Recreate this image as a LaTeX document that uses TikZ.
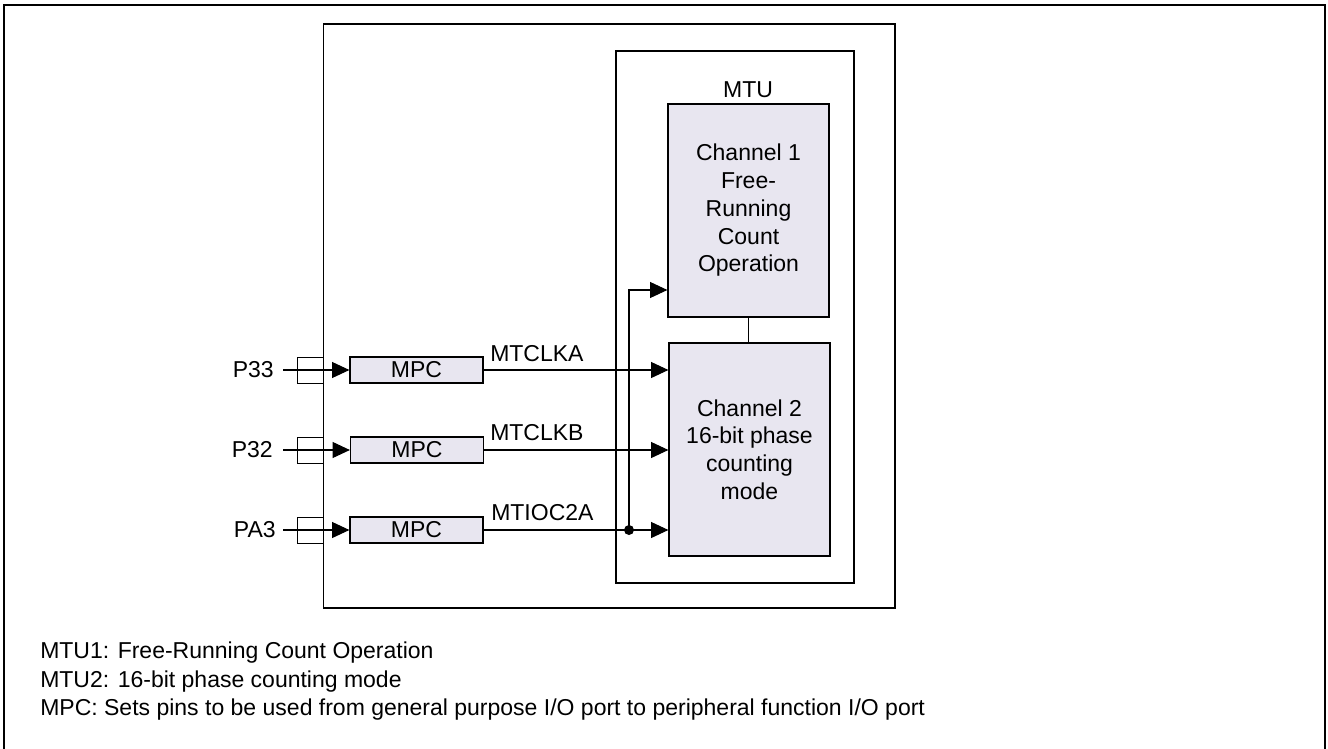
\documentclass[tikz,border=0pt]{standalone}
\usepackage{fontspec}
\setmainfont{Liberation Sans}
\usetikzlibrary{arrows.meta}
\definecolor{boxfill}{RGB}{232,230,240}
\begin{document}
\begin{tikzpicture}[x=0.75pt,y=-0.75pt,
  txt/.style={font=\fontsize{17.25pt}{20.8pt}\selectfont, inner sep=0pt},
  blk/.style={draw, line width=0.9pt, fill=boxfill, align=center, inner sep=0pt,
              font=\fontsize{17.25pt}{20.8pt}\selectfont},
  mpcbox/.style={blk, minimum width=99.75pt, minimum height=19.5pt},
  chbox/.style={blk, minimum width=120.75pt, minimum height=159.75pt},
  pinbox/.style={draw, line width=0.7pt, minimum width=19.5pt, minimum height=19.5pt, inner sep=0pt},
  arr/.style={line width=0.8pt, -{Triangle[length=13pt,width=12pt]}},
  wire/.style={line width=0.8pt}]
\useasboundingbox (0,0) rectangle (1328,749);
% outer frame
\draw[line width=1.6pt] (4,749) -- (4,5) -- (1325,5) -- (1325,749);
% pin boxes
\node[pinbox] (pb1) at (310,370) {};
\node[pinbox] (pb2) at (310,450) {};
\node[pinbox] (pb3) at (310,530) {};
% chip and MTU boxes
\draw[line width=1pt] (323.5,24) rectangle (895,608);
\draw[line width=1pt] (616,51) rectangle (854,583);
\node[txt, anchor=base] (mtu) at (748,98) {MTU};
% channels
\node[chbox] (ch1) at (748.5,210.5) {Channel 1\\Free-\\Running\\Count\\Operation};
\node[chbox] (ch2) at (749.5,449.5) {Channel 2\\16-bit phase\\counting\\mode};
\draw[wire] (ch1.south) -- (ch1.south |- ch2.north);
% MPC boxes
\node[mpcbox] (mpc1) at (416.5,370) {MPC};
\node[mpcbox] (mpc2) at (417,450) {MPC};
\node[mpcbox] (mpc3) at (416.5,530) {MPC};
% pin labels
\node[txt, anchor=base east] (p33) at (274,377) {P33};
\node[txt, anchor=base east] (p32) at (273,457) {P32};
\node[txt, anchor=base east] (pa3) at (276,537) {PA3};
\coordinate (s1) at (283,370);
\coordinate (s2) at (283,450);
\coordinate (s3) at (283,530);
\draw[arr] (s1) -- (mpc1.west);
\draw[arr] (s2) -- (mpc2.west);
\draw[arr] (s3) -- (mpc3.west);
% signals
\draw[arr] (mpc1.east) -- (mpc1.east -| ch2.west);
\draw[arr] (mpc2.east) -- (mpc2.east -| ch2.west);
\draw[arr] (mpc3.east) -- (mpc3.east -| ch2.west);
\node[txt, anchor=base west] (l1) at (490,361) {MTCLKA};
\node[txt, anchor=base west] (l2) at (490,440) {MTCLKB};
\node[txt, anchor=base west] (l3) at (491,520) {MTIOC2A};
\coordinate (j) at (629,530);
\coordinate (k) at (629,290);
\draw[arr] (j) -- (k) -- (k -| ch1.west);
\fill (j) circle (5);
% footer
\node[txt, anchor=base west] (f1) at (40,658) {MTU1: Free-Running Count Operation};
\node[txt, anchor=base west] (f2) at (40,687) {MTU2: 16-bit phase counting mode};
\node[txt, anchor=base west] (f3) at (40,715) {MPC: Sets pins to be used from general purpose I/O port to peripheral function I/O port};
\end{tikzpicture}
\end{document}
